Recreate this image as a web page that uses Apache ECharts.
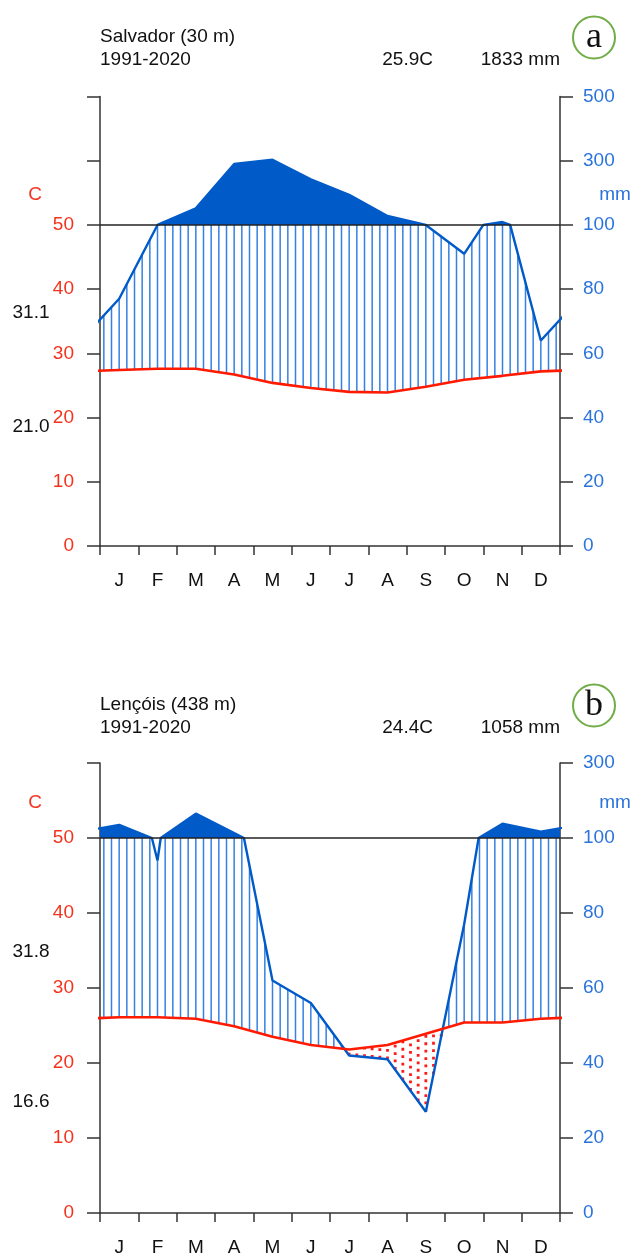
<!DOCTYPE html>
<html>
<head>
<meta charset="utf-8">
<script src="https://cdn.jsdelivr.net/npm/echarts@6/dist/echarts.min.js"></script>
<style>
html,body{margin:0;padding:0;background:#fff;}
#chart{width:636px;height:1260px;}
</style>
</head>
<body>
<div id="chart"></div>
<script>
// ---- data ----
const months = ['J','F','M','A','M','J','J','A','S','O','N','D'];
const tempTicks = [0, 10, 20, 30, 40, 50];
const salvadorPrecTicks = [0, 20, 40, 60, 80, 100, 300, 500];
const lencoisPrecTicks = [0, 20, 40, 60, 80, 100, 300];

const salvadorTemp = [27.4, 27.6, 27.6, 26.7, 25.4, 24.6, 24.0, 23.9, 24.8, 25.9, 26.5, 27.2];
const salvadorPrec = [77, 100, 152, 290, 303, 242, 194, 128, 100, 91, 109, 64];
const lencoisTemp = [26.1, 26.1, 25.9, 24.9, 23.5, 22.4, 21.8, 22.4, 23.9, 25.4, 25.4, 25.9];
const lencoisPrec = [135, 94, 165, 113, 62, 56, 42, 41, 27, 77, 138, 117];

const salvadorInfo = {name: 'Salvador (30 m)', period: '1991-2020', meanT: '25.9C', total: '1833 mm', maxT: '31.1', minT: '21.0', tag: 'a'};
const lencoisInfo = {name: 'Lençóis (438 m)', period: '1991-2020', meanT: '24.4C', total: '1058 mm', maxT: '31.8', minT: '16.6', tag: 'b'};

// ---- helpers (Walter-Lieth scaling) ----
const xs = []; for (let i = 0; i < 14; i++) xs.push(i - 0.5);
function ext(a) { return [a[11]].concat(a, [a[0]]); }           // cyclic wrap: Dec before Jan, Jan after Dec
function precC(p) { return p <= 100 ? p / 2 : 50 + (p - 100) / 20; }
function interp(xa, ya, x) {
  for (let i = 1; i < xa.length; i++) {
    if (x <= xa[i]) { const f = (x - xa[i-1]) / (xa[i] - xa[i-1]); return ya[i-1] + f * (ya[i] - ya[i-1]); }
  }
  return ya[ya.length - 1];
}
function precLine(prec) {
  const e = ext(prec), pts = [];
  for (let i = 0; i < e.length; i++) {
    if (i > 0) {
      const a = e[i-1], b = e[i];
      if ((a - 100) * (b - 100) < 0) { const f = (100 - a) / (b - a); pts.push([xs[i-1] + f, 50]); }
    }
    pts.push([xs[i], precC(e[i])]);
  }
  return pts;
}
function tempLine(temp) { const e = ext(temp); return e.map((v, i) => [xs[i], v]); }
function hatchItems(temp, prec) {
  const et = ext(temp), ep = ext(prec), items = [];
  for (let k = 0; k < 60; k++) {
    const x = 0.1 + 0.2 * k;
    items.push([x, interp(xs, et, x), precC(interp(xs, ep, x))]);
  }
  return items;
}

const PCOL = '#005ac8', TCOL = '#ff1a00', HCOL = '#3580e2';
const AXCOL = '#333333', TLAB = '#f4331f', PLAB = '#2b74dc';
const FONT = '"Liberation Sans", Arial, sans-serif';

function makeAxes(gi, ymax, precTicks) {
  const xa = [
    {type: 'value', gridIndex: gi, min: 0, max: 12, interval: 1,
     axisLine: {show: true, onZero: false, lineStyle: {color: AXCOL, width: 1.5}},
     axisTick: {show: true, length: 9, lineStyle: {color: AXCOL, width: 1.5}},
     axisLabel: {show: false}, splitLine: {show: false}},
    {type: 'category', gridIndex: gi, data: months, boundaryGap: true, position: 'bottom',
     axisLine: {show: false}, axisTick: {show: false},
     axisLabel: {show: true, color: '#111', fontSize: 19, fontFamily: FONT, margin: 25, interval: 0},
     splitLine: {show: false}}
  ];
  const ya = [
    {type: 'value', gridIndex: gi, min: 0, max: ymax, interval: 10, position: 'left',
     axisLine: {show: true, lineStyle: {color: AXCOL, width: 1.5}},
     axisTick: {show: true, length: 13, lineStyle: {color: AXCOL, width: 1.5}},
     axisLabel: {color: TLAB, fontSize: 19, fontFamily: FONT, margin: 26,
       formatter: v => { const i = tempTicks.indexOf(v); return i >= 0 ? String(tempTicks[i]) : ''; }},
     splitLine: {show: false}},
    {type: 'value', gridIndex: gi, min: 0, max: ymax, interval: 10, position: 'right',
     axisLine: {show: true, lineStyle: {color: AXCOL, width: 1.5}},
     axisTick: {show: true, length: 13, lineStyle: {color: AXCOL, width: 1.5}},
     axisLabel: {color: PLAB, fontSize: 19, fontFamily: FONT, margin: 23, align: 'left',
       formatter: v => { const i = Math.round(v / 10); return precTicks[i] !== undefined ? String(precTicks[i]) : ''; }},
     splitLine: {show: false}}
  ];
  return {xa, ya};
}

function makeSeries(xi, yi, temp, prec) {
  const pl = precLine(prec);
  const tl = tempLine(temp);
  const hatch = hatchItems(temp, prec);
  return [
    {type: 'custom', xAxisIndex: xi, yAxisIndex: yi, clip: true, z: 2, silent: true,
     dimensions: ['x', 't', 'p'], encode: {x: 0, y: [1, 2]},
     data: hatch,
     renderItem: (params, api) => {
       const x = api.value(0), t = api.value(1), p = api.value(2);
       if (p > t) {
         const a = api.coord([x, t]), b = api.coord([x, Math.min(p, 50)]);
         return {type: 'line', shape: {x1: a[0], y1: a[1], x2: b[0], y2: b[1]},
                 style: {stroke: HCOL, lineWidth: 1.5}};
       } else {
         const a = api.coord([x, p]), b = api.coord([x, t]);
         return {type: 'line', shape: {x1: a[0], y1: a[1], x2: b[0], y2: b[1]},
                 style: {stroke: '#ff1a1a', lineWidth: 2.8, lineDash: [2.8, 4.6]}};
       }
     }},
    {type: 'custom', xAxisIndex: xi, yAxisIndex: yi, clip: true, z: 3, silent: true,
     data: [[0, 50]],
     renderItem: (params, api) => {
       const pts = pl.map(d => api.coord([d[0], Math.max(d[1], 50)]));
       pts.push(api.coord([pl[pl.length - 1][0], 50]));
       pts.push(api.coord([pl[0][0], 50]));
       return {type: 'polygon', shape: {points: pts}, style: {fill: PCOL}};
     }},
    {type: 'line', xAxisIndex: xi, yAxisIndex: yi, data: pl, showSymbol: false, z: 4, silent: true,
     lineStyle: {color: PCOL, width: 2.4}},
    {type: 'line', xAxisIndex: xi, yAxisIndex: yi, data: tl, showSymbol: false, z: 5, silent: true,
     lineStyle: {color: TCOL, width: 2.6},
     markLine: {silent: true, symbol: 'none', label: {show: false},
       lineStyle: {color: '#222', type: 'solid', width: 1.5}, data: [{yAxis: 50}]}}
  ];
}

function texts(info, y0, yC, yMax, yMin) {
  const f = '19px ' + FONT;
  const t = (text, x, y, align, color, font) => ({type: 'text', silent: true, z: 10,
    style: {text, x, y, align, verticalAlign: 'middle', textAlign: align, textVerticalAlign: 'middle', fill: color || '#111', font: font || f}});
  return [
    t(info.name, 100, y0, 'left', '#111'),
    t(info.period, 100, y0 + 23, 'left', '#111'),
    t(info.meanT, 433, y0 + 23, 'right', '#111'),
    t(info.total, 560, y0 + 23, 'right', '#111'),
    t('C', 35, yC, 'center', TLAB),
    t('mm', 615, yC, 'center', PLAB),
    t(info.maxT, 31, yMax, 'center', '#111'),
    t(info.minT, 31, yMin, 'center', '#111'),
    {type: 'circle', silent: true, z: 10, shape: {cx: 594, cy: y0 + 0.5, r: 21},
     style: {fill: 'none', stroke: '#70ad47', lineWidth: 2}},
    t(info.tag, 594, y0 + 1, 'center', '#111', '36px "Liberation Serif", "Times New Roman", serif')
  ];
}

const A = makeAxes(0, 70, salvadorPrecTicks);
const B = makeAxes(1, 60, lencoisPrecTicks);

const option = {
  animation: false,
  backgroundColor: '#fff',
  grid: [
    {left: 100, top: 96.5, width: 460, height: 449.5},
    {left: 100, top: 763, width: 460, height: 450}
  ],
  xAxis: A.xa.concat(B.xa),
  yAxis: A.ya.concat(B.ya),
  series: makeSeries(0, 0, salvadorTemp, salvadorPrec).concat(makeSeries(2, 2, lencoisTemp, lencoisPrec)),
  graphic: texts(salvadorInfo, 37, 195, 313, 427).concat(texts(lencoisInfo, 705, 803, 952, 1102))
};

const chart = echarts.init(document.getElementById('chart'), null, {renderer: 'canvas'});
chart.setOption(option);
</script>
</body>
</html>
